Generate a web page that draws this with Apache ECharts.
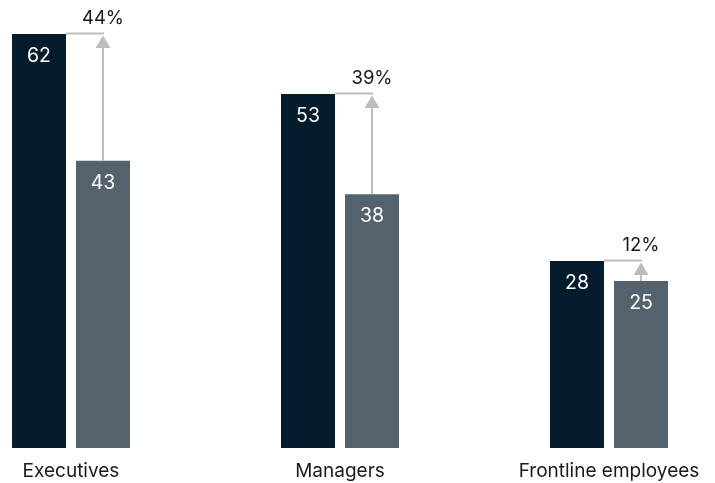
<!DOCTYPE html>
<html>
<head>
<meta charset="utf-8">
<script src="https://cdn.jsdelivr.net/npm/echarts@6/dist/echarts.min.js"></script>
<style>
  html, body { margin: 0; padding: 0; background: #fff; }
  #chart { width: 715px; height: 483px; }
</style>
</head>
<body>
<div id="chart"></div>
<script>
const categories = ["Executives", "Managers", "Frontline employees"];
const darkValues = [62, 53, 28];
const grayValues = [43, 38, 25];
const changeLabels = ["44%", "39%", "12%"];

const FONT = "Inter, 'Liberation Sans', Arial, sans-serif";
const BAR_W = 54;
const GAP = 10;
const ARROW = "#BDBDBD";

const chart = echarts.init(document.getElementById("chart"));

const valueLabel = {
  show: true,
  position: "insideTop",
  distance: 12,
  color: "#fff",
  fontSize: 19.5,
  fontFamily: FONT,
};

// connector: line from dark bar top over to an arrow above the gray bar
const renderArrow = (params, api) => {
  const i = api.value(0);
  const cx = api.coord([i, 0])[0];
  const yTop = api.coord([i, api.value(1)])[1];
  const yGray = api.coord([i, api.value(2)])[1];
  const darkRight = cx - GAP / 2;
  const gx = cx + GAP / 2 + BAR_W / 2;
  return {
    type: "group",
    children: [
      {
        type: "line",
        shape: { x1: darkRight, y1: yTop - 0.5, x2: gx + 1, y2: yTop - 0.5 },
        style: { stroke: ARROW, lineWidth: 2 },
      },
      {
        type: "line",
        shape: { x1: gx, y1: yTop + 13, x2: gx, y2: yGray },
        style: { stroke: ARROW, lineWidth: 2 },
      },
      {
        type: "polygon",
        shape: { points: [[gx, yTop + 1.5], [gx - 7.5, yTop + 14], [gx + 7.5, yTop + 14]] },
        style: { fill: ARROW },
      },
      {
        type: "text",
        style: {
          text: changeLabels[params.dataIndex],
          x: gx,
          y: yTop - 16,
          align: "center",
          verticalAlign: "middle",
          fontSize: 18.5,
          fontFamily: FONT,
          fill: "#1a1a1a",
        },
      },
    ],
  };
};

const option = {
  animation: false,
  grid: { left: 71, right: 106, top: 34, bottom: 35 },
  xAxis: {
    type: "category",
    data: categories,
    boundaryGap: false,
    axisLine: { show: false },
    axisTick: { show: false },
    axisLabel: {
      margin: 14,
      fontSize: 19,
      fontFamily: FONT,
      color: "#1a1a1a",
    },
  },
  yAxis: {
    type: "value",
    min: 0,
    max: Math.max(...darkValues),
    show: false,
    splitLine: { show: false },
  },
  series: [
    {
      type: "bar",
      data: darkValues,
      barWidth: BAR_W,
      barGap: (GAP / BAR_W) * 100 + "%",
      clip: false,
      itemStyle: { color: "#051C2C" },
      label: valueLabel,
    },
    {
      type: "bar",
      data: grayValues,
      barWidth: BAR_W,
      clip: false,
      itemStyle: { color: "#53626C" },
      label: valueLabel,
    },
    {
      type: "custom",
      clip: false,
      data: categories.map((c, i) => [i, darkValues[i], grayValues[i]]),
      encode: { x: 0, y: 1 },
      renderItem: renderArrow,
      z: 5,
    },
  ],
};

chart.setOption(option);
</script>
</body>
</html>
